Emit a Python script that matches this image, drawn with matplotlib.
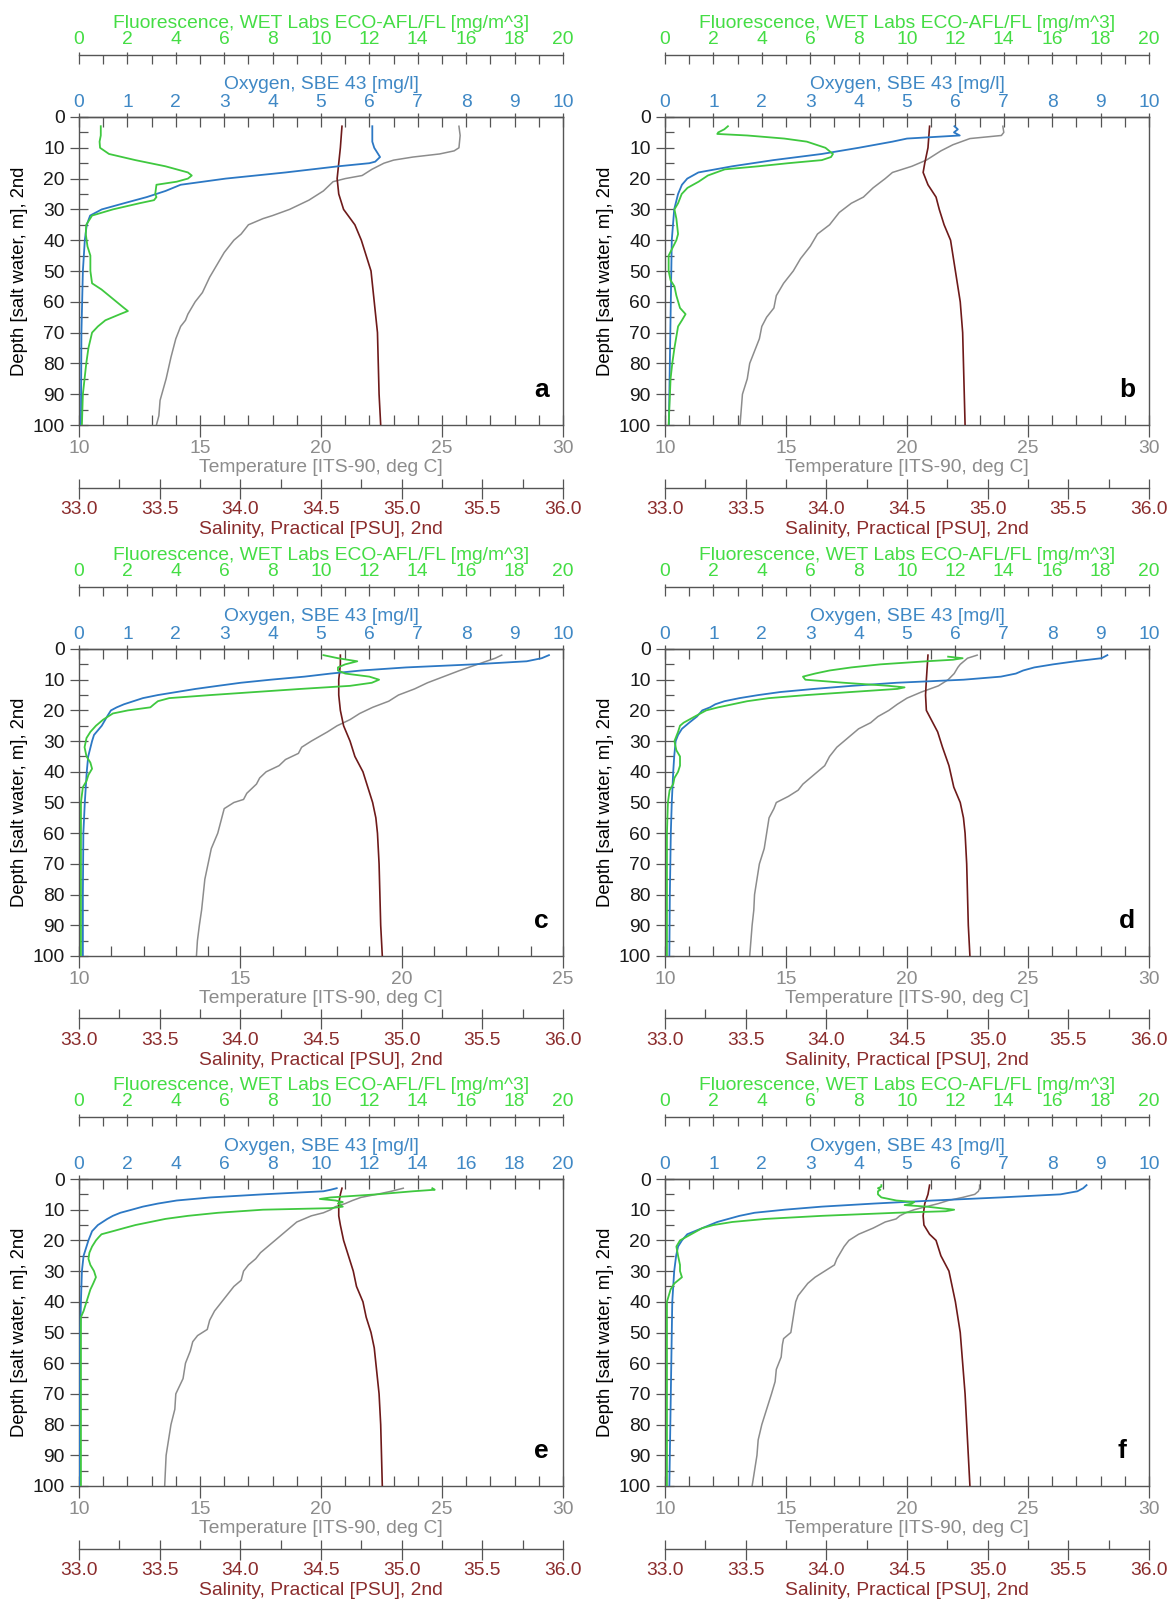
import matplotlib
matplotlib.use('Agg')
import matplotlib.pyplot as plt
from matplotlib.ticker import MultipleLocator, FormatStrFormatter

plt.rcParams['font.family'] = ['Liberation Sans', 'DejaVu Sans']

# colours
C_TEMP = '#8c8c8c'
C_SAL_TXT = '#8b2c2c'
C_SAL = '#6e1a1a'
C_OXY_TXT = '#3f88c5'
C_OXY = '#2c78c4'
C_FL_TXT = '#44dd44'
C_FL = '#3fc83f'
C_AX = '#555555'

# ---- panel a ----
a_temp_z = [3, 6, 10, 11, 12, 13, 14, 15, 17, 19, 20, 21, 24, 27, 30, 32, 33, 35, 38, 40, 44, 48, 52, 57, 60, 64, 66, 68, 72, 78, 85, 92, 97, 100]
a_temp = [25.7, 25.75, 25.7, 25.5, 24.9, 23.8, 23.0, 22.6, 22.1, 21.7, 21.0, 20.5, 20.1, 19.5, 18.7, 18.0, 17.6, 17.0, 16.7, 16.4, 16.0, 15.7, 15.4, 15.1, 14.8, 14.5, 14.4, 14.2, 14.0, 13.8, 13.6, 13.35, 13.3, 13.2]
a_sal_z = [3, 10, 15, 20, 25, 30, 35, 40, 45, 50, 60, 70, 80, 90, 100]
a_sal = [34.63, 34.62, 34.61, 34.6, 34.61, 34.64, 34.71, 34.75, 34.78, 34.81, 34.83, 34.85, 34.855, 34.86, 34.87]
a_oxy_z = [3, 8, 10, 13, 14.5, 15, 16, 18, 20, 22, 24, 26, 28, 30, 32, 35, 40, 50, 70, 100]
a_oxy = [6.06, 6.06, 6.1, 6.22, 6.12, 6.0, 5.36, 4.27, 3.03, 2.1, 1.79, 1.4, 0.93, 0.47, 0.23, 0.16, 0.12, 0.08, 0.05, 0.04]
a_fl_z = [3, 6, 8, 10, 12, 14, 16, 18, 19, 20, 21, 22, 25, 26, 27, 28, 30, 32, 35, 38, 42, 45, 50, 54, 56, 58, 60, 62, 63, 64, 66, 68, 70, 75, 80, 85, 90, 100]
a_fl = [0.9, 0.9, 0.85, 0.87, 1.24, 2.33, 3.57, 4.5, 4.66, 4.5, 4.04, 3.2, 3.15, 3.2, 3.1, 2.5, 1.4, 0.54, 0.3, 0.28, 0.35, 0.47, 0.47, 0.54, 0.93, 1.24, 1.55, 1.86, 2.02, 1.7, 1.09, 0.78, 0.54, 0.39, 0.3, 0.23, 0.16, 0.12]

# ---- panel b ----
b_temp_z = [3, 5, 6, 7, 9, 11, 14, 16, 18, 20, 23, 26, 28, 31, 35, 38, 42, 46, 50, 54, 58, 62, 65, 68, 72, 76, 80, 85, 90, 95, 100]
b_temp = [23.96, 24.0, 23.9, 22.6, 21.9, 21.4, 20.8, 20.2, 19.4, 19.1, 18.6, 18.2, 17.7, 17.2, 16.8, 16.3, 16.0, 15.6, 15.3, 14.9, 14.6, 14.5, 14.2, 14.0, 13.9, 13.7, 13.5, 13.4, 13.2, 13.15, 13.1]
b_sal_z = [3, 10, 15, 18, 22, 26, 30, 35, 40, 50, 60, 70, 80, 90, 100]
b_sal = [34.64, 34.63, 34.61, 34.6, 34.63, 34.68, 34.7, 34.73, 34.77, 34.8, 34.83, 34.845, 34.85, 34.855, 34.86]
b_oxy_z = [3, 4, 5, 6, 7, 8, 10, 12, 14, 16, 18, 20, 22, 25, 30, 40, 60, 80, 100]
b_oxy = [5.98, 6.05, 5.97, 6.09, 5.0, 4.7, 4.0, 3.24, 2.24, 1.39, 0.69, 0.46, 0.35, 0.27, 0.19, 0.14, 0.12, 0.1, 0.08]
b_fl_z = [3, 4, 5, 5.5, 6, 7, 8, 10, 12, 13, 14, 15, 16, 17, 19, 21, 23, 25, 28, 30, 33, 38, 40, 45, 50, 53, 55, 58, 62, 64, 66, 68, 75, 80, 85, 100]
b_fl = [2.6, 2.45, 2.2, 2.16, 3.4, 4.93, 5.86, 6.63, 6.94, 6.86, 6.48, 5.09, 3.86, 2.47, 1.77, 1.39, 0.93, 0.69, 0.54, 0.39, 0.47, 0.54, 0.47, 0.15, 0.15, 0.23, 0.39, 0.47, 0.62, 0.85, 0.7, 0.54, 0.39, 0.3, 0.23, 0.15]

# ---- panel c ----
c_temp_z = [2, 3, 5, 7, 9, 11, 13, 15, 17, 19, 21, 23, 25, 27, 30, 32, 34, 36, 38, 40, 42, 44, 47, 49, 50, 52, 56, 60, 65, 70, 75, 80, 85, 90, 95, 100]
c_temp = [23.1, 22.9, 22.35, 21.8, 21.3, 20.8, 20.4, 19.9, 19.6, 19.1, 18.7, 18.4, 18.0, 17.7, 17.2, 16.9, 16.8, 16.4, 16.2, 15.8, 15.6, 15.5, 15.2, 15.1, 14.8, 14.5, 14.4, 14.3, 14.1, 14.0, 13.9, 13.85, 13.8, 13.73, 13.67, 13.64]
c_sal_z = [2, 5, 10, 15, 20, 25, 30, 35, 40, 45, 50, 55, 60, 70, 80, 90, 100]
c_sal = [34.62, 34.62, 34.61, 34.61, 34.62, 34.64, 34.68, 34.71, 34.76, 34.79, 34.82, 34.84, 34.85, 34.86, 34.865, 34.87, 34.88]
c_oxy_z = [2, 3, 4, 5, 6, 7, 8, 9, 10, 11, 12, 13, 14, 15, 16, 18, 19, 20, 22, 25, 28, 30, 35, 40, 45, 50, 60, 80, 100]
c_oxy = [9.71, 9.56, 9.25, 8.16, 6.76, 5.83, 5.2, 4.66, 3.96, 3.34, 2.87, 2.41, 2.02, 1.63, 1.32, 0.93, 0.78, 0.66, 0.58, 0.47, 0.31, 0.27, 0.19, 0.16, 0.14, 0.12, 0.09, 0.08, 0.08]
c_fl_z = [2, 3, 4, 5, 6, 7, 8, 9, 10, 11, 12, 13, 14, 15, 16, 17, 18, 19, 20, 21, 23, 25, 27, 29, 32, 35, 37, 39, 41, 43, 45, 50, 60, 100]
c_fl = [10.1, 10.7, 11.5, 11.0, 10.7, 10.7, 11.0, 12.0, 12.4, 12.1, 11.2, 9.17, 7.3, 5.44, 3.73, 3.26, 3.1, 2.95, 2.02, 1.4, 1.0, 0.7, 0.47, 0.31, 0.23, 0.31, 0.47, 0.54, 0.39, 0.31, 0.16, 0.08, 0.08, 0.08]

# ---- panel d ----
d_temp_z = [2, 3, 5, 6, 8, 10, 12, 14, 16, 18, 20, 22, 24, 26, 28, 30, 32, 35, 38, 40, 42, 44, 46, 48, 50, 52, 55, 60, 65, 70, 75, 80, 85, 90, 95, 100]
d_temp = [22.9, 22.5, 22.2, 22.1, 21.95, 21.7, 21.3, 20.6, 20.0, 19.6, 19.25, 18.8, 18.5, 18.0, 17.7, 17.4, 17.1, 16.8, 16.6, 16.3, 16.0, 15.7, 15.5, 15.1, 14.6, 14.5, 14.3, 14.2, 14.1, 13.9, 13.8, 13.7, 13.67, 13.6, 13.55, 13.5]
d_sal_z = [2, 10, 15, 20, 23, 27, 32, 38, 45, 50, 55, 60, 70, 80, 90, 100]
d_sal = [34.63, 34.62, 34.615, 34.62, 34.65, 34.69, 34.72, 34.76, 34.79, 34.83, 34.85, 34.86, 34.87, 34.875, 34.88, 34.89]
d_oxy_z = [2, 3, 4, 5, 6, 7, 8, 9, 10, 11, 12, 13, 14, 15, 16, 17, 18, 19, 20, 22, 24, 26, 28, 30, 35, 40, 50, 60, 80, 100]
d_oxy = [9.14, 9.02, 8.48, 8.02, 7.63, 7.4, 7.25, 6.94, 6.17, 4.78, 3.86, 3.08, 2.39, 1.93, 1.54, 1.23, 1.04, 0.93, 0.77, 0.66, 0.5, 0.35, 0.27, 0.22, 0.19, 0.17, 0.14, 0.12, 0.1, 0.09]
d_fl_z = [2.5, 3, 3.5, 4, 5, 6, 7, 8, 9, 10, 11, 12, 12.5, 13, 14, 15, 16, 17, 18, 19, 20, 22, 24, 25, 27, 30, 33, 35, 38, 40, 42, 44, 46, 50, 60, 70, 100]
d_fl = [11.7, 12.3, 11.9, 10.8, 8.9, 7.7, 6.8, 6.2, 5.7, 5.8, 7.4, 9.25, 9.9, 9.6, 7.7, 5.86, 4.3, 3.4, 2.8, 2.2, 1.7, 1.23, 0.77, 0.62, 0.54, 0.39, 0.47, 0.62, 0.62, 0.54, 0.39, 0.34, 0.19, 0.12, 0.08, 0.08, 0.08]

# ---- panel e (oxygen scale 0-20) ----
e_temp_z = [3, 4, 5, 6, 7, 8, 9, 10, 11, 12, 13, 14, 16, 18, 20, 22, 24, 26, 28, 30, 33, 35, 38, 40, 43, 46, 49, 51, 53, 56, 60, 65, 70, 75, 80, 85, 90, 95, 100]
e_temp = [23.4, 22.9, 22.3, 21.65, 21.3, 21.0, 20.6, 20.4, 20.1, 19.6, 19.3, 19.0, 18.7, 18.4, 18.1, 17.8, 17.5, 17.3, 17.0, 16.8, 16.7, 16.4, 16.1, 15.9, 15.6, 15.4, 15.3, 14.9, 14.7, 14.6, 14.4, 14.3, 14.0, 13.96, 13.8, 13.7, 13.6, 13.57, 13.54]
e_sal_z = [3, 5, 8, 12, 15, 20, 25, 30, 35, 40, 45, 50, 55, 60, 70, 80, 90, 100]
e_sal = [34.63, 34.62, 34.61, 34.61, 34.62, 34.64, 34.67, 34.7, 34.72, 34.76, 34.78, 34.81, 34.83, 34.84, 34.86, 34.87, 34.875, 34.88]
e_oxy_z = [3, 3.5, 4, 5, 6, 7, 8, 9, 10, 11, 12, 13, 15, 17, 20, 25, 30, 40, 50, 100]
e_oxy = [10.65, 10.4, 10.1, 7.6, 5.44, 4.04, 3.26, 2.64, 2.18, 1.71, 1.4, 1.17, 0.78, 0.54, 0.39, 0.19, 0.12, 0.08, 0.05, 0.03]
e_fl_z = [3, 3.5, 4, 5, 6, 6.5, 7, 7.5, 8, 9, 9.5, 10, 11, 12, 13, 14, 15, 16, 17, 18, 19, 20, 22, 24, 26, 28, 30, 32, 34, 36, 38, 40, 43, 45, 50, 60, 100]
e_fl = [14.6, 14.7, 13.8, 12.3, 10.4, 9.95, 10.6, 10.9, 10.7, 10.9, 10.4, 7.6, 5.75, 4.5, 3.57, 2.95, 2.33, 1.86, 1.4, 0.93, 0.81, 0.7, 0.54, 0.43, 0.39, 0.47, 0.62, 0.7, 0.59, 0.47, 0.39, 0.31, 0.19, 0.08, 0.08, 0.08, 0.08]

# ---- panel f ----
f_temp_z = [2, 3, 4, 5, 6, 7, 8, 9, 10, 11, 12, 13, 14, 16, 18, 20, 22, 24, 26, 28, 30, 32, 34, 36, 38, 40, 45, 50, 52, 54, 58, 62, 66, 70, 75, 80, 85, 90, 95, 100]
f_temp = [23.0, 23.0, 22.95, 22.8, 22.3, 21.7, 21.3, 20.8, 20.3, 19.95, 19.7, 19.55, 19.1, 18.6, 18.0, 17.6, 17.4, 17.25, 17.1, 17.0, 16.6, 16.2, 15.9, 15.7, 15.5, 15.4, 15.3, 15.2, 14.9, 14.85, 14.8, 14.6, 14.55, 14.4, 14.2, 14.0, 13.85, 13.8, 13.7, 13.6]
f_sal_z = [2, 5, 8, 12, 15, 18, 20, 25, 30, 35, 40, 50, 60, 70, 80, 90, 100]
f_sal = [34.64, 34.63, 34.61, 34.6, 34.605, 34.64, 34.68, 34.71, 34.76, 34.78, 34.8, 34.83, 34.845, 34.86, 34.87, 34.88, 34.89]
f_oxy_z = [2, 3, 4, 5, 6, 7, 8, 9, 10, 11, 12, 13, 14, 16, 18, 20, 22, 25, 30, 40, 50, 70, 100]
f_oxy = [8.71, 8.64, 8.52, 8.17, 6.94, 5.55, 4.32, 3.24, 2.47, 1.85, 1.54, 1.31, 1.08, 0.77, 0.46, 0.35, 0.27, 0.23, 0.19, 0.15, 0.14, 0.12, 0.09]
f_fl_z = [2, 2.5, 3, 3.5, 4, 5, 6, 7, 7.5, 8, 8.5, 9, 10, 10.5, 11, 12, 13, 14, 15, 16, 18, 20, 22, 25, 28, 30, 32, 34, 36, 40, 50, 60, 100]
f_fl = [8.94, 8.94, 8.8, 8.9, 8.8, 8.8, 8.94, 9.56, 10.3, 10.2, 9.9, 10.8, 11.95, 11.6, 9.56, 6.48, 4.16, 2.78, 2.0, 1.54, 1.08, 0.62, 0.47, 0.54, 0.62, 0.62, 0.7, 0.39, 0.23, 0.08, 0.08, 0.08, 0.08]

FS = 13.9
W = 1176
H = 1604


def frac(left, top, right, bottom):
    return [left / W, 1 - bottom / H, (right - left) / W, (bottom - top) / H]


def style_axis(axis, major, minor, fmt=None):
    axis.set_major_locator(MultipleLocator(major))
    axis.set_minor_locator(MultipleLocator(minor))
    # keep minor ticks at major positions too: they give the inward half of each major tick
    axis.remove_overlapping_locs = False
    if fmt:
        axis.set_major_formatter(FormatStrFormatter(fmt))


def panel(rect, letter, temp_z, temp, sal_z, sal, oxy_z, oxy, fl_z, fl,
          tmax=30, omax=10, letter_x=0.955):
    ax = fig.add_axes(rect)
    ax.plot(temp, temp_z, color=C_TEMP, lw=1.1)
    ax.set_xlim(10, tmax)
    ax.set_ylim(100, 0)
    for s in ax.spines.values():
        s.set_color(C_AX)
        s.set_linewidth(1.0)

    style_axis(ax.yaxis, 10, 5)
    ax.tick_params(axis='y', which='major', direction='out', length=6.7, width=0.9,
                   color=C_AX, labelcolor='#1a1a1a', labelsize=FS, pad=3.5)
    ax.tick_params(axis='y', which='minor', direction='in', length=6.5, width=0.9, color=C_AX)
    ax.set_ylabel('Depth [salt water, m], 2nd', fontsize=13.3, labelpad=3)

    style_axis(ax.xaxis, 5, 1)
    ax.tick_params(axis='x', which='major', direction='out', length=8.5, width=0.9,
                   color=C_AX, labelcolor=C_TEMP, labelsize=FS, pad=2)
    ax.tick_params(axis='x', which='minor', direction='in', length=7, width=0.9, color=C_AX)
    ax.set_xlabel('Temperature [ITS-90, deg C]', fontsize=FS, color=C_TEMP, labelpad=2)

    # salinity axis below
    ax_s = ax.twiny()
    ax_s.plot(sal, sal_z, color=C_SAL, lw=1.2)
    ax_s.set_xlim(33, 36)
    ax_s.xaxis.tick_bottom()
    ax_s.xaxis.set_label_position('bottom')
    for k in ['top', 'left', 'right']:
        ax_s.spines[k].set_visible(False)
    ax_s.spines['bottom'].set_position(('outward', 45))
    ax_s.spines['bottom'].set_color(C_AX)
    ax_s.spines['bottom'].set_linewidth(1.0)
    style_axis(ax_s.xaxis, 0.5, 0.25, '%.1f')
    ax_s.tick_params(axis='x', which='major', direction='out', length=7.7, width=0.9,
                     color=C_AX, labelcolor=C_SAL_TXT, labelsize=FS, pad=2)
    ax_s.tick_params(axis='x', which='minor', direction='in', length=6.5, width=0.9, color=C_AX)
    ax_s.set_xlabel('Salinity, Practical [PSU], 2nd', fontsize=FS, color=C_SAL_TXT, labelpad=2)

    # oxygen on top spine
    ax_o = ax.twiny()
    ax_o.plot(oxy, oxy_z, color=C_OXY, lw=1.3)
    ax_o.set_xlim(0, omax)
    for k in ['bottom', 'left', 'right']:
        ax_o.spines[k].set_visible(False)
    ax_o.spines['top'].set_color(C_AX)
    ax_o.spines['top'].set_linewidth(1.0)
    step = omax / 10
    style_axis(ax_o.xaxis, step, step / 2)
    ax_o.tick_params(axis='x', which='major', direction='out', length=3, width=0.9,
                     color=C_AX, labelcolor=C_OXY_TXT, labelsize=FS, pad=1.5)
    ax_o.tick_params(axis='x', which='minor', direction='in', length=7, width=0.9, color=C_AX)
    ax_o.set_xlabel('Oxygen, SBE 43 [mg/l]', fontsize=FS, color=C_OXY_TXT, labelpad=3.5)

    # fluorescence on detached top axis
    ax_f = ax.twiny()
    ax_f.plot(fl, fl_z, color=C_FL, lw=1.3)
    ax_f.set_xlim(0, 20)
    for k in ['bottom', 'left', 'right']:
        ax_f.spines[k].set_visible(False)
    ax_f.spines['top'].set_position(('outward', 44.6))
    ax_f.spines['top'].set_color(C_AX)
    ax_f.spines['top'].set_linewidth(1.0)
    style_axis(ax_f.xaxis, 2, 1)
    ax_f.tick_params(axis='x', which='major', direction='out', length=2, width=0.9,
                     color=C_AX, labelcolor=C_FL_TXT, labelsize=FS, pad=3)
    ax_f.tick_params(axis='x', which='minor', direction='in', length=6.5, width=0.9, color=C_AX)
    ax_f.set_xlabel('Fluorescence, WET Labs ECO-AFL/FL [mg/m^3]', fontsize=FS,
                    color=C_FL_TXT, labelpad=2.5)

    ax.text(letter_x, 0.115, letter, transform=ax.transAxes, fontsize=19,
            fontweight='bold', ha='center', va='center')


fig = plt.figure(figsize=(W / 100, H / 100), dpi=100)
fig.patch.set_facecolor('white')

L0, L1 = 79, 563
R0, R1 = 665, 1149
panel(frac(L0, 117, L1, 425), 'a', a_temp_z, a_temp, a_sal_z, a_sal, a_oxy_z, a_oxy, a_fl_z, a_fl)
panel(frac(R0, 117, R1, 425), 'b', b_temp_z, b_temp, b_sal_z, b_sal, b_oxy_z, b_oxy, b_fl_z, b_fl)
panel(frac(L0, 649, L1, 956), 'c', c_temp_z, c_temp, c_sal_z, c_sal, c_oxy_z, c_oxy, c_fl_z, c_fl, tmax=25)
panel(frac(R0, 649, R1, 956), 'd', d_temp_z, d_temp, d_sal_z, d_sal, d_oxy_z, d_oxy, d_fl_z, d_fl)
panel(frac(L0, 1179, L1, 1486), 'e', e_temp_z, e_temp, e_sal_z, e_sal, e_oxy_z, e_oxy, e_fl_z, e_fl, omax=20)
panel(frac(R0, 1179, R1, 1486), 'f', f_temp_z, f_temp, f_sal_z, f_sal, f_oxy_z, f_oxy, f_fl_z, f_fl, letter_x=0.945)

fig.savefig('out.png', dpi=100)
